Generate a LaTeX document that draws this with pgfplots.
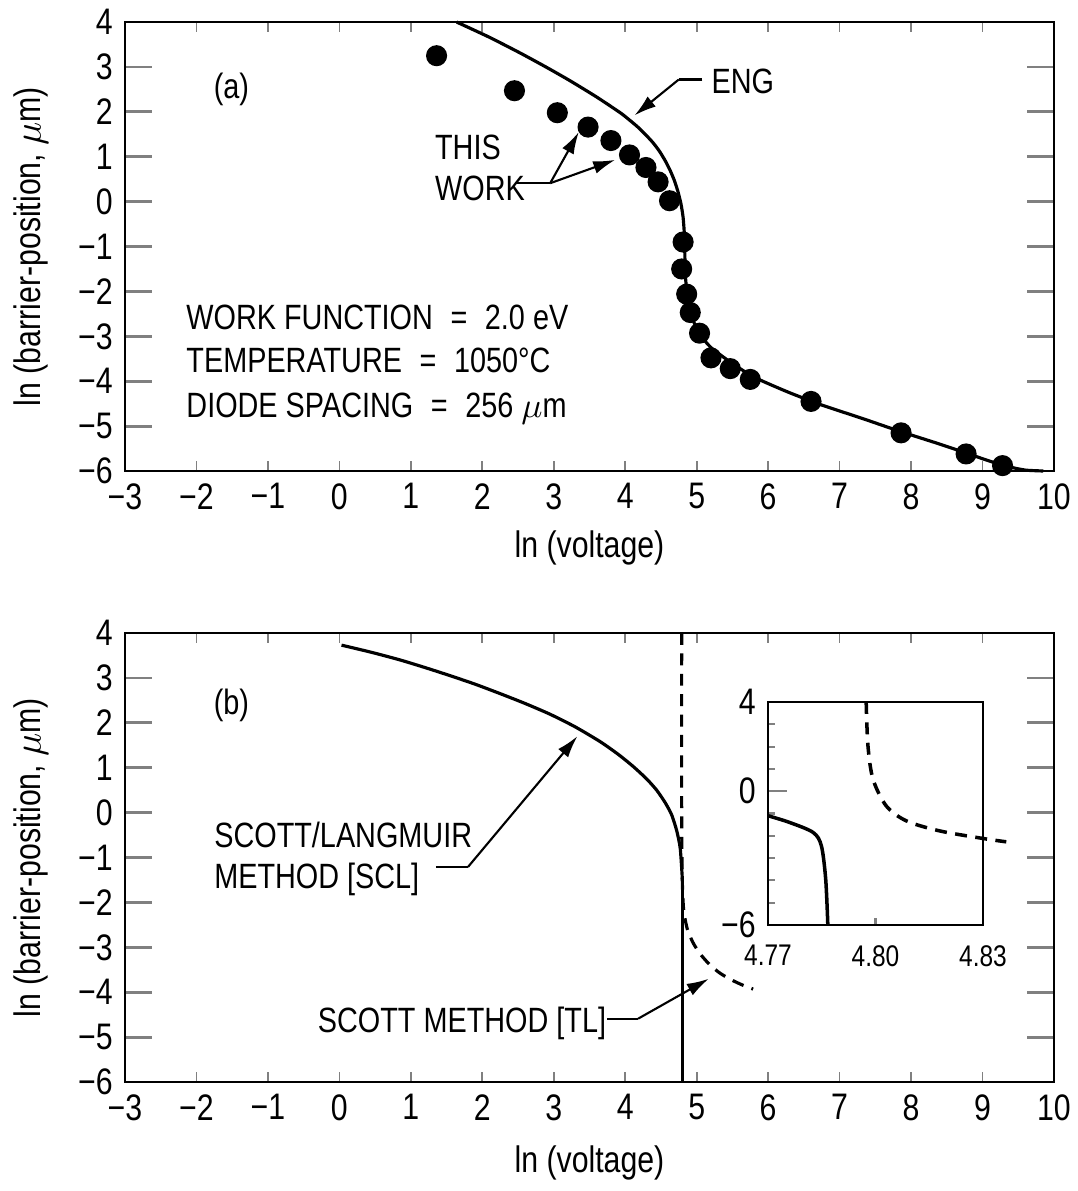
\documentclass[border=0pt]{standalone}
\usepackage{fontspec}
\setmainfont{Liberation Sans}[FakeStretch=0.82]
\usepackage{pgfplots}
\pgfplotsset{compat=1.18}
\usetikzlibrary{arrows.meta}

\pgfplotsset{
  mainax/.style={
    scale only axis, width=9.29cm, height=4.49cm,
    xmin=-3, xmax=10, ymin=-6, ymax=4,
    axis line style={line width=0.8pt},
    xtick={-3,...,10}, ytick={-6,...,4},
    minor xtick={-3,...,10},
    xticklabels={−3,−2,−1,0,1,2,3,4,5,6,7,8,9,10},
    yticklabels={−6,−5,−4,−3,−2,−1,0,1,2,3,4},
    tick align=inside, tick pos=both,
    major tick length=0.27cm, minor tick length=0.1cm,
    major x tick style={draw=none},
    minor x tick style={line width=0.5pt},
    major y tick style={line width=0.8pt},
    tick label style={font=\fontsize{10.5}{12}\selectfont},
    label style={font=\fontsize{10.5}{12}\selectfont},
    xlabel={ln (voltage)},
    ylabel={ln (barrier-position, $\mu$m)},
    ylabel style={at={(axis description cs:-0.101,0.5)}, anchor=center},
    clip=false,
  },
}
\tikzset{
  ann/.style={font=\fontsize{10}{12}\selectfont, inner sep=0pt},
  lead/.style={line width=0.6pt},
  arr/.style={line width=0.6pt, -{Latex[length=2.2mm,width=1.3mm]}},
}

\begin{document}
\begin{tikzpicture}
\useasboundingbox (0,0) rectangle (10.78,11.91);

% (a)
\begin{axis}[mainax, at={(1.25cm,7.20cm)}, anchor=south west,
  xlabel style={at={(axis description cs:0.5,-0.171)}, anchor=center}]
\addplot[black, line width=0.9pt, smooth, tension=0.35] coordinates {
  (1.64,4.0) (2.1,3.66) (2.53,3.31) (2.9,2.99) (3.23,2.69) (3.6,2.33)
  (3.93,1.98) (4.05,1.83) (4.17,1.67) (4.28,1.50) (4.39,1.31) (4.48,1.12)
  (4.56,0.91) (4.63,0.69) (4.69,0.46) (4.74,0.21) (4.78,-0.05) (4.81,-0.35)
  (4.83,-0.8) (4.84,-1.6) (4.87,-2.1) (4.93,-2.56) (5.04,-2.95)
  (5.2,-3.25) (5.45,-3.55) (5.79,-3.9) (6.26,-4.23) (6.73,-4.52) (7.3,-4.82)
  (7.85,-5.12) (8.4,-5.4) (8.77,-5.6) (9.1,-5.78) (9.35,-5.9) (9.6,-5.98)
  (9.85,-6.0)
};
\addplot[only marks, mark=*, mark size=2.8pt, black] coordinates {
  (1.36,3.25) (2.45,2.47) (3.05,1.98) (3.48,1.66) (3.80,1.36) (4.06,1.04)
  (4.29,0.76) (4.46,0.44) (4.62,0.02) (4.81,-0.9) (4.79,-1.5) (4.86,-2.06)
  (4.91,-2.47) (5.04,-2.93) (5.20,-3.48) (5.47,-3.72) (5.75,-3.96)
  (6.6,-4.45) (7.86,-5.15) (8.77,-5.62) (9.28,-5.88)
};
\node[ann] at (-1.51,2.5) {(a)};
\node[ann, anchor=base west] at (5.2,2.41) {ENG};
\draw[lead] (5.08,2.72) -- (4.75,2.72);
\draw[arr] (4.75,2.72) -- (4.13,1.92);
\node[ann, anchor=base west] at (1.33,0.94) {THIS};
\node[ann, anchor=base west] at (1.33,0.02) {WORK};
\draw[lead] (2.46,0.41) -- (2.95,0.41);
\draw[arr] (2.95,0.41) -- (3.35,1.55);
\draw[arr] (2.95,0.41) -- (3.86,0.93);
\node[ann, anchor=base west] at (-2.15,-2.84) {WORK FUNCTION\enspace=\enspace2.0 eV};
\node[ann, anchor=base west] at (-2.15,-3.80) {TEMPERATURE\enspace=\enspace1050°C};
\node[ann, anchor=base west] at (-2.15,-4.80) {DIODE SPACING\enspace=\enspace256 $\mu$m};
\end{axis}

% (b)
\begin{axis}[mainax, at={(1.25cm,1.09cm)}, anchor=south west,
  xlabel style={at={(axis description cs:0.5,-0.18)}, anchor=center}]
\addplot[black, line width=0.9pt, smooth, tension=0.4] coordinates {
  (0.03,3.73) (0.45,3.57) (0.85,3.40) (1.2,3.23) (1.55,3.05) (1.9,2.86)
  (2.25,2.65) (2.6,2.43) (2.95,2.19) (3.3,1.91) (3.65,1.58) (3.9,1.3)
  (4.11,1.03) (4.3,0.75) (4.44,0.5) (4.56,0.22) (4.65,-0.05) (4.72,-0.4)
  (4.77,-0.8) (4.8,-1.5)
};
\addplot[black, line width=0.9pt] coordinates {(4.8,-1.5) (4.8,-6)};
\addplot[black, line width=0.9pt, dash pattern=on 3.4pt off 2.4pt, smooth, tension=0.4] coordinates {
  (4.79,4.0) (4.79,0.0) (4.8,-1.6) (4.82,-2.2) (4.87,-2.6) (4.95,-2.9)
  (5.05,-3.15) (5.19,-3.4) (5.33,-3.58) (5.48,-3.72) (5.64,-3.84) (5.79,-3.93)
};
\node[ann] at (-1.51,2.38) {(b)};
\node[ann, anchor=base west] at (-1.76,-0.78) {SCOTT/LANGMUIR};
\node[ann, anchor=base west] at (-1.76,-1.70) {METHOD [SCL]};
\draw[lead] (1.35,-1.21) -- (1.80,-1.21);
\draw[arr] (1.80,-1.21) -- (3.33,1.7);
\node[ann, anchor=base west] at (-0.31,-4.89) {SCOTT METHOD [TL]};
\draw[lead] (3.75,-4.59) -- (4.18,-4.59);
\draw[arr] (4.18,-4.59) -- (5.17,-3.7);
\end{axis}

% inset
\begin{axis}[at={(7.68cm,2.66cm)}, anchor=south west, scale only axis,
  width=2.15cm, height=2.23cm,
  xmin=4.77, xmax=4.83, ymin=-6, ymax=4,
  axis line style={line width=0.8pt},
  xtick={4.77,4.80,4.83}, xticklabels={4.77,4.80,4.83},
  minor xtick={4.80},
  ytick={-6,0,4}, yticklabels={−6,0,4},
  minor ytick={-5,-4,-3,-2,-1,1,2,3},
  tick align=inside, xtick pos=bottom, ytick pos=left,
  major tick length=0.19cm, minor tick length=0.07cm,
  major x tick style={draw=none},
  tick style={line width=0.6pt},
  xticklabel style={font=\fontsize{8.5}{10}\selectfont, yshift=-0.08cm},
  yticklabel style={font=\fontsize{10.5}{12}\selectfont},
  clip=false]
\addplot[black, line width=1pt, smooth, tension=0.5] coordinates {
  (4.77,-1.1) (4.776,-1.4) (4.7826,-1.85) (4.7849,-2.45) (4.7861,-3.94) (4.7867,-6)
};
\addplot[black, line width=1pt, dash pattern=on 3.4pt off 2.4pt, smooth, tension=0.5] coordinates {
  (4.7974,4) (4.7979,2.03) (4.7993,0.54) (4.803,-0.66) (4.8086,-1.33)
  (4.8179,-1.78) (4.83,-2.12) (4.8365,-2.27)
};
\end{axis}
\end{tikzpicture}
\end{document}
